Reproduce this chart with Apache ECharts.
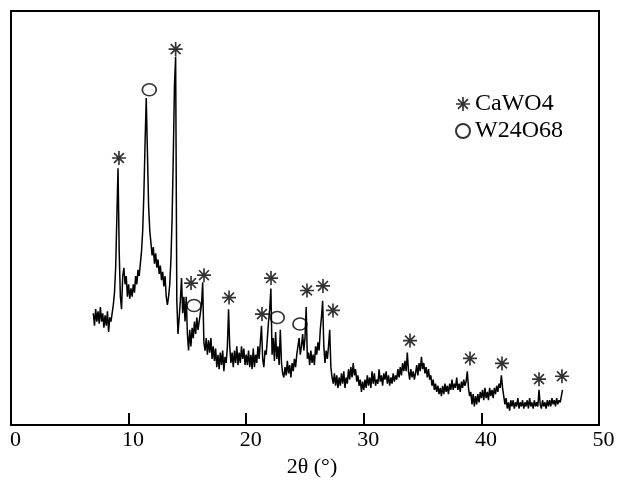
<!DOCTYPE html>
<html>
  <head>
    <meta charset="utf-8" />
    <title></title>
    <style type="text/css">
      html,
      body {
        margin: 0;
        width: 100%;
        height: 100%;
        background: #fff;
      }
      #main {
        width: 619px;
        height: 483px;
      }
    </style>
  </head>
  <body>
    <div id="main"></div>
    <script src="https://cdn.jsdelivr.net/npm/echarts@6/dist/echarts.min.js"></script>
    <script type="text/javascript">
      // scan: start angle, step, intensities (one per step)
      var scanStart = 7.0;
      var scanStep = 0.1;
      var intensity = [
        27, 24, 28, 25, 27.5, 24.5, 28.5, 25, 27, 23.5,
        26.5, 24, 27.5, 22.5, 26, 25, 27, 29, 32, 38,
        50, 62, 42, 31, 28, 36, 38, 34, 36, 31,
        34, 30.5, 33, 31, 34, 32, 36, 34, 37.5, 36,
        39, 42, 47, 56, 68, 79, 66, 53, 47, 44,
        41, 43, 39, 41.5, 38, 40, 36.5, 38.5, 35, 37,
        33.5, 36, 31, 29, 31, 34, 40, 50, 65, 82,
        89, 30, 22, 26, 30, 35.5, 27, 31, 25, 31,
        22, 18, 23, 19, 23.5, 21, 25, 22, 26, 23,
        25, 27, 29, 34.5, 20, 18, 21, 17, 20.5, 17.5,
        21, 16, 19, 15.5, 18.5, 14, 17, 13.5, 17.5, 14.5,
        18, 13, 16.5, 15, 19, 28, 19, 15, 17.5, 14,
        18, 15, 19, 14.5, 17.5, 15, 19, 16, 18.5, 14.5,
        17, 14.5, 18, 14, 17, 13.5, 18.5, 14, 17, 15,
        19, 16, 20, 24, 16, 14, 18, 17, 21, 25,
        28, 33, 17, 21, 15.5, 22.5, 16, 19, 14.5, 23,
        15, 12.5, 11.5, 14, 12, 15.5, 12.5, 14.5, 11.5, 15,
        13, 16, 14, 17, 19, 21, 17, 19, 22, 18,
        21, 28.5, 16, 17.5, 14.5, 18, 15, 17, 14.5, 19,
        17, 20, 18, 23, 26, 30, 19, 15, 18, 16,
        19, 23, 14, 11.5, 10, 12.5, 9.5, 12, 9, 11.5,
        9.5, 12.5, 10, 13, 9, 11.5, 10, 13.5, 11, 14,
        11.5, 15, 12, 13.5, 10.5, 12, 9.5, 11, 8, 10.5,
        8.5, 11, 9, 12, 9.5, 11.5, 9, 13, 10, 12.5,
        9.5, 11, 10, 13.5, 10.5, 12, 9.5, 12.5, 11, 13,
        10, 12, 9.5, 11.5, 10, 12.5, 10.5, 12, 11, 13.5,
        11.5, 14, 12, 15, 13, 15.5, 13, 17.5, 13, 11,
        13.5, 11.5, 13, 11, 12.5, 14.5, 12, 15, 13, 16.5,
        13.5, 15, 12.5, 14, 11.5, 13.5, 11, 12, 9.5, 11,
        8.5, 10, 8, 9.5, 7.5, 9, 7, 9.5, 7.5, 10,
        8, 9.5, 7.5, 10, 8.5, 11, 8.5, 10, 9, 11.5,
        8.5, 10, 8, 10.5, 9, 11, 9.5, 10.5, 13, 9,
        7, 8, 5, 7.5, 4.5, 7, 5, 7.5, 5.5, 8,
        6.5, 8.5, 6, 9, 6.5, 8, 6, 9, 7, 8.5,
        6.5, 9, 7.5, 9.5, 8, 10, 9, 12, 9, 7,
        5, 6.5, 4, 5.5, 3.5, 6, 4.5, 6, 4, 5.5,
        4.5, 6.5, 4, 5.5, 4.5, 6, 4, 5.5, 4.5, 6,
        4, 6.5, 4.5, 5.5, 4, 6, 4.5, 5.5, 4.5, 8.5,
        5, 4, 6, 4.5, 5.5, 4, 6, 4.5, 6, 4.5,
        6.5, 5, 6, 4.5, 6.5, 5, 6, 5.5, 7, 8.5
      ];

      // phase markers [2theta, height]
      var cawo4Marks = [
        [9.18, 64.5], [14.0, 90.8], [15.31, 34.3], [16.41, 36.2],
        [18.54, 30.8], [21.34, 26.8], [22.11, 35.5], [25.17, 32.5],
        [26.53, 33.6], [27.38, 27.7], [33.93, 20.4], [39.03, 16.1],
        [41.75, 14.9], [44.9, 11.1], [46.85, 11.8]
      ];
      var w24o68Marks = [
        [11.76, 81.0], [15.56, 28.9], [22.64, 26.0], [24.57, 24.4]
      ];

      var xTicks = [0, 10, 20, 30, 40, 50];

      var scan = intensity.map(function (v, i) {
        return [+(scanStart + i * scanStep).toFixed(1), v];
      });

      // 8-spoke asterisk
      var starPath =
        "path://M0 8.8L20 8.8L20 11.2L0 11.2Z M8.8 0L11.2 0L11.2 20L8.8 20Z " +
        "M2.1 3.8L3.8 2.1L17.9 16.2L16.2 17.9Z M16.2 2.1L17.9 3.8L3.8 17.9L2.1 16.2Z";

      var font = "Liberation Serif";
      var chart = echarts.init(document.getElementById("main"));

      var option = {
        backgroundColor: "#fff",
        animation: false,
        grid: {
          left: 11,
          right: 20,
          top: 11,
          bottom: 50,
          show: true,
          borderColor: "#000",
          borderWidth: 2,
        },
        legend: {
          data: ["CaWO4", "W24O68"],
          orient: "vertical",
          left: 450,
          top: 87,
          itemWidth: 14,
          itemHeight: 14,
          itemGap: 3,
          textStyle: { fontFamily: font, fontSize: 24, color: "#000" },
        },
        xAxis: {
          type: "value",
          min: xTicks[0],
          max: xTicks[xTicks.length - 1],
          interval: 10,
          name: "2θ (°)",
          nameLocation: "middle",
          nameGap: 27,
          nameTextStyle: { fontFamily: font, fontSize: 22, color: "#000", padding: [0, 0, 0, 14] },
          axisLine: { show: true, lineStyle: { color: "#000", width: 2 } },
          axisTick: { inside: true, length: 12, lineStyle: { color: "#000", width: 2 } },
          axisLabel: {
            fontFamily: font,
            fontSize: 22,
            color: "#000",
            margin: 4,
            padding: [0, 0, 0, 9],
          },
          splitLine: { show: false },
        },
        yAxis: {
          type: "value",
          min: 0,
          max: 100,
          axisLine: { show: true, lineStyle: { color: "#000", width: 2 } },
          axisTick: { show: false },
          axisLabel: { show: false },
          splitLine: { show: false },
        },
        series: [
          {
            type: "line",
            data: scan,
            symbol: "none",
            lineStyle: { color: "#000", width: 1.5 },
          },
          {
            name: "CaWO4",
            type: "scatter",
            data: cawo4Marks,
            symbol: starPath,
            symbolSize: 14,
            itemStyle: { color: "#000" },
          },
          {
            name: "W24O68",
            type: "scatter",
            data: w24o68Marks,
            symbol: "circle",
            symbolSize: [14, 12],
            itemStyle: { color: "rgba(255,255,255,0)", borderColor: "#000", borderWidth: 1.6 },
          },
        ],
      };

      chart.setOption(option);
    </script>
  </body>
</html>
